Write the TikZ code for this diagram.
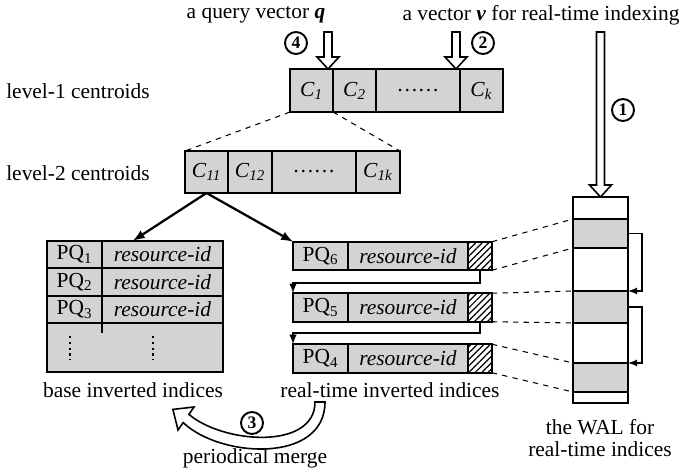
\documentclass[tikz,border=0pt]{standalone}
\usepackage{fontspec}
\setmainfont{Liberation Serif}
\usetikzlibrary{arrows.meta,patterns.meta}
\definecolor{cellgray}{RGB}{211,211,211}

% hollow arrow pointing down: x, top y, tip y
\newcommand{\openarrow}[3]{\draw[line width=0.9pt,fill=white] (#1-4,#2) -- (#1-4,#3-12) -- (#1-11,#3-12) -- (#1,#3) -- (#1+11,#3-12) -- (#1+4,#3-12) -- (#1+4,#2) -- cycle;}

\begin{document}
\begin{tikzpicture}[x=0.02cm, y=-0.02cm, >=latex,
    every node/.style={font=\fontsize{12.2}{12.8}\selectfont},
    box/.style={draw, line width=1.1pt, inner sep=0pt, outer sep=0pt},
    lvcell/.style={box, fill=cellgray, anchor=west, minimum height=0.86cm, minimum width=#1},
    rowcell/.style={box, fill=cellgray, anchor=west, minimum height=0.56cm, minimum width=#1},
    hatch/.style={box, anchor=west, minimum height=0.56cm, minimum width=0.48cm,
      pattern={Lines[angle=45,distance=2.6pt,line width=0.7pt]}},
    walseg/.style={box, anchor=north, minimum width=1.1cm, minimum height=#1},
    num/.style={draw, circle, line width=1.1pt, inner sep=0pt, minimum size=0.44cm,
      font=\bfseries\fontsize{10}{12}\selectfont},
    link/.style={dashed, line width=0.6pt}]
\useasboundingbox (0,0) rectangle (681,473);

\node (tq) at (256,15) {a query vector \textbf{\textit{q}}};
\node (tv) at (541,15) {a vector \textbf{\textit{v}} for real-time indexing};
\node (l1) at (78,91) {level-1 centroids};
\node (l2) at (78,173) {level-2 centroids};

\node[lvcell=0.86cm] (c1) at (290,90.5) {\textit{C}\textsubscript{\textit{1}}};
\node[lvcell=0.86cm] (c2) at (c1.east) {\textit{C}\textsubscript{\textit{2}}};
\node[lvcell=1.68cm] (cdots) at (c2.east) {……};
\node[lvcell=0.86cm] (ck) at (cdots.east) {\textit{C}\textsubscript{\textit{k}}};

\node[lvcell=0.86cm, minimum height=0.84cm] (c11) at (185,172) {\textit{C}\textsubscript{\textit{11}}};
\node[lvcell=0.88cm, minimum height=0.84cm] (c12) at (c11.east) {\textit{C}\textsubscript{\textit{12}}};
\node[lvcell=1.68cm, minimum height=0.84cm] (c2dots) at (c12.east) {……};
\node[lvcell=0.88cm, minimum height=0.84cm] (c1k) at (c2dots.east) {\textit{C}\textsubscript{\textit{1k}}};

\draw[link] (c1.south west) -- (c11.north west);
\draw[link] (c1.south east) -- (c1k.north east);

\openarrow{328}{32}{69}
\openarrow{456}{32}{69}
\openarrow{600.5}{32}{197}
\node[num] (n4) at (296,43) {4};
\node[num] (n2) at (483,43) {2};
\node[num] (n1) at (623,110) {1};

% base inverted indices
\node[rowcell=1.1cm, minimum height=0.55cm] (pq1) at (47,254.5) {PQ\textsubscript{1}};
\node[rowcell=2.42cm, minimum height=0.55cm] (rid1) at (pq1.east) {\textit{resource-id}};
\node[rowcell=1.1cm, minimum height=0.55cm] (pq2) at (47,282) {PQ\textsubscript{2}};
\node[rowcell=2.42cm, minimum height=0.55cm] (rid2) at (pq2.east) {\textit{resource-id}};
\node[rowcell=1.1cm, minimum height=0.55cm] (pq3) at (47,309.5) {PQ\textsubscript{3}};
\node[rowcell=2.42cm, minimum height=0.55cm] (rid3) at (pq3.east) {\textit{resource-id}};
\node[box, fill=cellgray, anchor=north west, minimum width=3.52cm, minimum height=0.98cm] (brest) at (pq3.south west) {};
\draw[line width=1.1pt] (pq3.south east) -- ++(0,10);
\draw[dotted, line width=1.3pt] (70,336) -- (70,360) (153,336) -- (153,360);
\node (lbase) at (133,390) {base inverted indices};

% real-time inverted indices
\foreach \i/\y in {6/256,5/307.5,4/358.5}{
  \node[rowcell=1.1cm, minimum height=0.57cm] (rpq\i) at (293,\y) {PQ\textsubscript{\i}};
  \node[rowcell=2.4cm, minimum height=0.57cm] (rrid\i) at (rpq\i.east) {\textit{resource-id}};
  \node[hatch, minimum height=0.57cm] (rh\i) at (rrid\i.east) {};
}
\draw[->, line width=0.9pt] (rh6.south) -- ++(0,13) -| (rpq5.north west);
\draw[->, line width=0.9pt] (rh5.south) -- ++(0,11) -| (rpq4.north west);
\node (lrt) at (390,390) {real-time inverted indices};

\draw[->, line width=1.3pt] (c11.south) -- ([xshift=0.62cm]rid1.north west);
\draw[->, line width=1.3pt] (c11.south) -- (rpq6.north west);

% the WAL
\node[walseg=0.44cm] (w1) at (600.5,197) {};
\node[walseg=0.58cm, fill=cellgray] (w2) at (w1.south) {};
\node[walseg=0.86cm] (w3) at (w2.south) {};
\node[walseg=0.64cm, fill=cellgray] (w4) at (w3.south) {};
\node[walseg=0.8cm] (w5) at (w4.south) {};
\node[walseg=0.58cm, fill=cellgray] (w6) at (w5.south) {};
\node[walseg=0.22cm] (w7) at (w6.south) {};
\draw[->, line width=0.8pt] (w2.east) -- ++(14,0) |- (w4.north east);
\draw[->, line width=0.8pt] (w4.east) -- ++(14,0) |- (w6.north east);
\node[align=center] (lwal) at (600,438) {the WAL for\\real-time indices};

\draw[link] (rh6.north east) -- (w2.north west);
\draw[link] (rh6.south east) -- (w2.south west);
\draw[link] (rh5.north east) -- (w4.north west);
\draw[link] (rh5.south east) -- (w4.south west);
\draw[link] (rh4.north east) -- (w6.north west);
\draw[link] (rh4.south east) -- (w6.south west);

% periodical merge
\draw[line width=0.9pt, fill=white] (315,402) .. controls (315,450) and (224,444) .. (188.9,414.4)
  -- (194,407) -- (172.9,409.4) -- (178,430) -- (183.2,422.6)
  .. controls (220,458) and (325,464) .. (325,402) -- cycle;
\node[num] (n3) at (252,423) {3};
\node (lmerge) at (255,458) {periodical merge};
\end{tikzpicture}
\end{document}
